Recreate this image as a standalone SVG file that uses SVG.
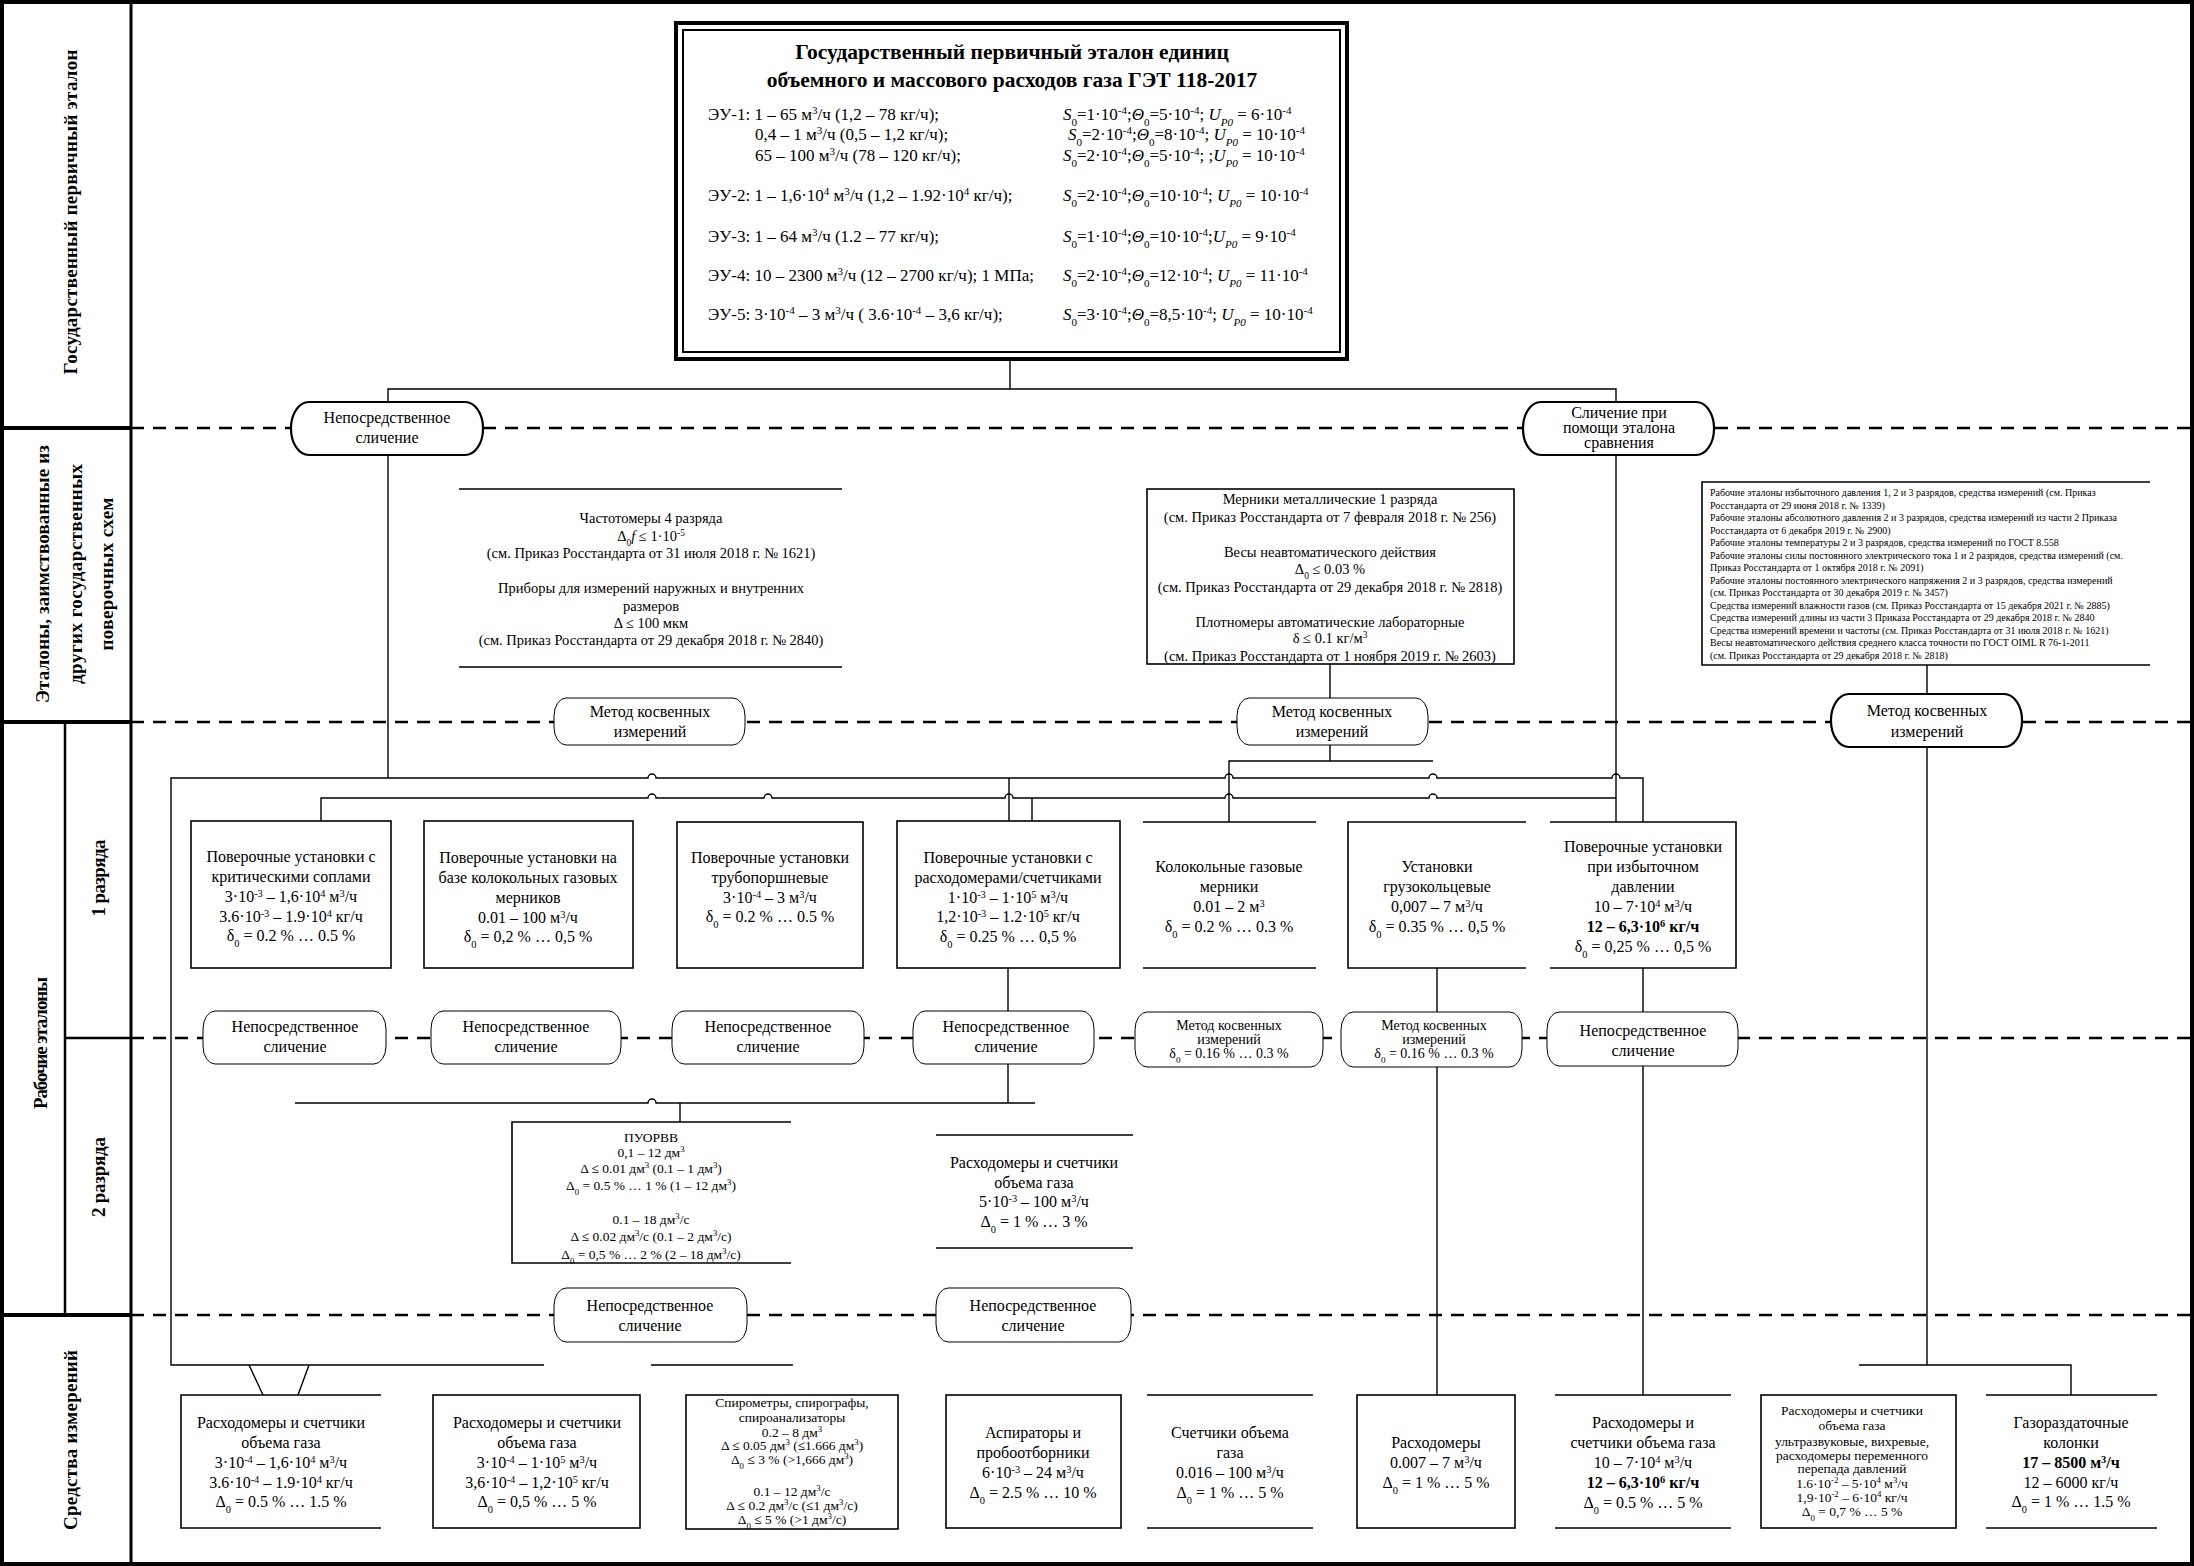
<svg xmlns="http://www.w3.org/2000/svg" width="2194" height="1566" viewBox="0 0 2194 1566">
<style>
text{font-family:"Liberation Serif","Times New Roman",serif;fill:#000}
.c{text-anchor:middle}
.f10{font-size:10px}.f13{font-size:13.5px}.f14{font-size:14.5px}.f15{font-size:14px}.f16{font-size:16px}.f18{font-size:17px}
.sup{font-size:65%;baseline-shift:super}
.sub{font-size:65%;baseline-shift:sub}
.i{font-style:italic}.b{font-weight:bold}
.lbl{font-size:19px;font-weight:bold;text-anchor:middle;dominant-baseline:central}
.box{fill:#fff;stroke:#000;stroke-width:1.6}
.ln{fill:none;stroke:#000;stroke-width:1.6}
.ov{fill:#fff;stroke:#000;stroke-width:2.2}
.ovt{fill:#fff;stroke:#000;stroke-width:1}
.cn{fill:none;stroke:#000;stroke-width:1.4}
.sep{fill:none;stroke:#000;stroke-width:2.5;stroke-dasharray:13 9}
</style>
<rect x="0" y="0" width="2194" height="1566" fill="#fff"/>
<g id="grid" fill="none" stroke="#000">
<rect x="2" y="2" width="2190" height="1562" stroke-width="4"/>
<path d="M131,0V1566" stroke-width="3"/>
<path d="M65,722V1315" stroke-width="2.5"/>
<path d="M0,428H131M0,722H131M0,1315H131" stroke-width="4"/>
<path d="M65,1038H131" stroke-width="2.5"/>
<path class="sep" d="M131,428H2190M131,722H2190M131,1038H2190M131,1315H2190"/>
</g>
<g id="labels">
<text class="lbl" transform="rotate(-90 70 212)" x="70" y="212" textLength="325" lengthAdjust="spacing">Государственный первичный эталон</text>
<text class="lbl" transform="rotate(-90 42 574)" x="42" y="574" textLength="258" lengthAdjust="spacing">Эталоны, заимствованные из</text>
<text class="lbl" transform="rotate(-90 75 574)" x="75" y="574" textLength="220" lengthAdjust="spacing">других государственных</text>
<text class="lbl" transform="rotate(-90 106 574)" x="106" y="574" textLength="153" lengthAdjust="spacing">поверочных схем</text>
<text class="lbl" transform="rotate(-90 40 1043)" x="40" y="1043" textLength="132" lengthAdjust="spacing">Рабочие эталоны</text>
<text class="lbl" transform="rotate(-90 98 878)" x="98" y="878" textLength="77" lengthAdjust="spacing">1 разряда</text>
<text class="lbl" transform="rotate(-90 98 1177)" x="98" y="1177" textLength="80" lengthAdjust="spacing">2 разряда</text>
<text class="lbl" transform="rotate(-90 70 1440)" x="70" y="1440" textLength="180" lengthAdjust="spacing">Средства измерений</text>
</g>
<g id="connectors" class="cn">
<path d="M1010,360V389M388,402V389H1616V402"/>
<path d="M388,455V778"/>
<path d="M544,1365H171V778H648a4,4 0 0 1 8,0H1225a4,4 0 0 1 8,0H1429a4,4 0 0 1 8,0H1612a4,4 0 0 1 8,0H1643V822"/>
<path d="M321,821V798H648a4,4 0 0 1 8,0H764a4,4 0 0 1 8,0H1005a4,4 0 0 1 8,0H1225a4,4 0 0 1 8,0H1429a4,4 0 0 1 8,0H1616"/>
<path d="M1009,778V821M1032,798V821"/>
<path d="M1616,455V822"/>
<path d="M1330,664V698M1330,745V761M1229,822V761H1433"/>
<path d="M1927,665V694M1927,747V1365M1859,1365H2071V1395"/>
<path d="M1008,968V1011M1008,1064V1103M295,1103H648a4,4 0 0 1 8,0H1035M680,1103V1122"/>
<path d="M1437,968V1012M1437,1067V1395"/>
<path d="M1643,968V1012M1643,1066V1395"/>
<path d="M249,1365L263,1395M309,1365L298,1395M651,1365H793"/>
</g>
<g id="n-main">
<rect x="676" y="23" width="671" height="336" fill="#fff" stroke="#000" stroke-width="4"/>
<rect x="683" y="30" width="657" height="322" fill="none" stroke="#000" stroke-width="2"/>
<text class="c b" x="1012" y="59" font-size="21.5">Государственный первичный эталон единиц</text>
<text class="c b" x="1012" y="87" font-size="21.5">объемного и массового расходов газа ГЭТ 118-2017</text>
<g class="f18">
<text x="708" y="120">ЭУ-1: 1 – 65 м<tspan class="sup">3</tspan>/ч (1,2 – 78 кг/ч);</text>
<text x="755" y="140">0,4 – 1 м<tspan class="sup">3</tspan>/ч (0,5 – 1,2 кг/ч);</text>
<text x="755" y="161">65 – 100 м<tspan class="sup">3</tspan>/ч (78 – 120 кг/ч);</text>
<text x="708" y="201">ЭУ-2: 1 – 1,6·10<tspan class="sup">4</tspan> м<tspan class="sup">3</tspan>/ч (1,2 – 1.92·10<tspan class="sup">4</tspan> кг/ч);</text>
<text x="708" y="242">ЭУ-3: 1 – 64 м<tspan class="sup">3</tspan>/ч (1.2 – 77 кг/ч);</text>
<text x="708" y="281">ЭУ-4: 10 – 2300 м<tspan class="sup">3</tspan>/ч (12 – 2700 кг/ч); 1 МПа;</text>
<text x="708" y="320">ЭУ-5: 3·10<tspan class="sup">-4</tspan> – 3 м<tspan class="sup">3</tspan>/ч ( 3.6·10<tspan class="sup">-4</tspan> – 3,6 кг/ч);</text>
<text x="1063" y="120"><tspan class="i">S</tspan><tspan class="sub">0</tspan>=1·10<tspan class="sup">-4</tspan>;<tspan class="i">Θ</tspan><tspan class="sub">0</tspan>=5·10<tspan class="sup">-4</tspan>; <tspan class="i">U</tspan><tspan class="sub i">P0</tspan> = 6·10<tspan class="sup">-4</tspan></text>
<text x="1068" y="140"><tspan class="i">S</tspan><tspan class="sub">0</tspan>=2·10<tspan class="sup">-4</tspan>;<tspan class="i">Θ</tspan><tspan class="sub">0</tspan>=8·10<tspan class="sup">-4</tspan>; <tspan class="i">U</tspan><tspan class="sub i">P0</tspan> = 10·10<tspan class="sup">-4</tspan></text>
<text x="1063" y="161"><tspan class="i">S</tspan><tspan class="sub">0</tspan>=2·10<tspan class="sup">-4</tspan>;<tspan class="i">Θ</tspan><tspan class="sub">0</tspan>=5·10<tspan class="sup">-4</tspan>; ;<tspan class="i">U</tspan><tspan class="sub i">P0</tspan> = 10·10<tspan class="sup">-4</tspan></text>
<text x="1063" y="201"><tspan class="i">S</tspan><tspan class="sub">0</tspan>=2·10<tspan class="sup">-4</tspan>;<tspan class="i">Θ</tspan><tspan class="sub">0</tspan>=10·10<tspan class="sup">-4</tspan>; <tspan class="i">U</tspan><tspan class="sub i">P0</tspan> = 10·10<tspan class="sup">-4</tspan></text>
<text x="1063" y="242"><tspan class="i">S</tspan><tspan class="sub">0</tspan>=1·10<tspan class="sup">-4</tspan>;<tspan class="i">Θ</tspan><tspan class="sub">0</tspan>=10·10<tspan class="sup">-4</tspan>;<tspan class="i">U</tspan><tspan class="sub i">P0</tspan> = 9·10<tspan class="sup">-4</tspan></text>
<text x="1063" y="281"><tspan class="i">S</tspan><tspan class="sub">0</tspan>=2·10<tspan class="sup">-4</tspan>;<tspan class="i">Θ</tspan><tspan class="sub">0</tspan>=12·10<tspan class="sup">-4</tspan>; <tspan class="i">U</tspan><tspan class="sub i">P0</tspan> = 11·10<tspan class="sup">-4</tspan></text>
<text x="1063" y="320"><tspan class="i">S</tspan><tspan class="sub">0</tspan>=3·10<tspan class="sup">-4</tspan>;<tspan class="i">Θ</tspan><tspan class="sub">0</tspan>=8,5·10<tspan class="sup">-4</tspan>; <tspan class="i">U</tspan><tspan class="sub i">P0</tspan> = 10·10<tspan class="sup">-4</tspan></text>
</g>
</g>
<g id="n-top-direct" class="c f16">
<rect class="ov" x="291" y="402" width="192" height="53" rx="18" ry="26"/>
<text x="387" y="423">Непосредственное</text>
<text x="387" y="443">сличение</text>
</g>
<g id="n-top-compare" class="c f16">
<rect class="ov" x="1523" y="402" width="191" height="53" rx="18" ry="26"/>
<text x="1619" y="418">Сличение при</text>
<text x="1619" y="433">помощи эталона</text>
<text x="1619" y="448">сравнения</text>
</g>
<g id="n-freq" class="c f14">
<path class="ln" d="M459,489H842M459,667H842"/>
<text x="651" y="523">Частотомеры 4 разряда</text>
<text x="651" y="541">Δ<tspan class="sub">0</tspan><tspan class="i">f</tspan> ≤ 1·10<tspan class="sup">-5</tspan></text>
<text x="651" y="558">(см. Приказ Росстандарта от 31 июля 2018 г. № 1621)</text>
<text x="651" y="593">Приборы для измерений наружных и внутренних</text>
<text x="651" y="611">размеров</text>
<text x="651" y="628">Δ ≤ 100 мкм</text>
<text x="651" y="645">(см. Приказ Росстандарта от 29 декабря 2018 г. № 2840)</text>
</g>
<g id="n-mern" class="c f14">
<rect class="box" x="1147" y="489" width="367" height="175"/>
<text x="1330" y="504">Мерники металлические 1 разряда</text>
<text x="1330" y="522">(см. Приказ Росстандарта от 7 февраля 2018 г. № 256)</text>
<text x="1330" y="557">Весы неавтоматического действия</text>
<text x="1330" y="574">Δ<tspan class="sub">0</tspan> ≤ 0.03 %</text>
<text x="1330" y="592">(см. Приказ Росстандарта от 29 декабря 2018 г. № 2818)</text>
<text x="1330" y="627">Плотномеры автоматические лабораторные</text>
<text x="1330" y="643">δ ≤ 0.1 кг/м<tspan class="sup">3</tspan></text>
<text x="1330" y="661">(см. Приказ Росстандарта от 1 ноября 2019 г. № 2603)</text>
</g>
<g id="n-list" class="f10">
<path class="ln" d="M2150,482H1702V665H2150"/>
<text x="1710" y="496">Рабочие эталоны избыточного давления 1, 2 и 3 разрядов, средства измерений (см. Приказ</text>
<text x="1710" y="508.5">Росстандарта от 29 июня 2018 г. № 1339)</text>
<text x="1710" y="521">Рабочие эталоны абсолютного давления 2 и 3 разрядов, средства измерений из части 2 Приказа</text>
<text x="1710" y="533.5">Росстандарта от 6 декабря 2019 г. № 2900)</text>
<text x="1710" y="546">Рабочие эталоны температуры 2 и 3 разрядов, средства измерений по ГОСТ 8.558</text>
<text x="1710" y="558.5">Рабочие эталоны силы постоянного электрического тока 1 и 2 разрядов, средства измерений (см.</text>
<text x="1710" y="571">Приказ Росстандарта от 1 октября 2018 г. № 2091)</text>
<text x="1710" y="583.5">Рабочие эталоны постоянного электрического напряжения 2 и 3 разрядов, средства измерений</text>
<text x="1710" y="596">(см. Приказ Росстандарта от 30 декабря 2019 г. № 3457)</text>
<text x="1710" y="608.5">Средства измерений влажности газов (см. Приказ Росстандарта от 15 декабря 2021 г. № 2885)</text>
<text x="1710" y="621">Средства измерений длины из части 3 Приказа Росстандарта от 29 декабря 2018 г. № 2840</text>
<text x="1710" y="633.5">Средства измерений времени и частоты (см. Приказ Росстандарта от 31 июля 2018 г. № 1621)</text>
<text x="1710" y="646">Весы неавтоматического действия среднего класса точности по ГОСТ OIML R 76-1-2011</text>
<text x="1710" y="658.5">(см. Приказ Росстандарта от 29 декабря 2018 г. № 2818)</text>
</g>
<g id="n-m1" class="c f16">
<rect class="ovt" x="554" y="698" width="191" height="47" rx="12" ry="18"/>
<text x="650" y="717">Метод косвенных</text>
<text x="650" y="737">измерений</text>
</g>
<g id="n-m2" class="c f16">
<rect class="ovt" x="1237" y="698" width="191" height="47" rx="12" ry="18"/>
<text x="1332" y="717">Метод косвенных</text>
<text x="1332" y="737">измерений</text>
</g>
<g id="n-m3" class="c f16">
<rect class="ov" x="1831" y="694" width="191" height="53" rx="18" ry="26"/>
<text x="1927" y="716">Метод косвенных</text>
<text x="1927" y="737">измерений</text>
</g>
<g id="n-r1-1" class="c f16">
<rect class="box" x="191" y="821" width="200" height="147"/>
<text x="291" y="862">Поверочные установки с</text>
<text x="291" y="882">критическими соплами</text>
<text x="291" y="902">3·10<tspan class="sup">-3</tspan> – 1,6·10<tspan class="sup">4</tspan> м<tspan class="sup">3</tspan>/ч</text>
<text x="291" y="922">3.6·10<tspan class="sup">-3</tspan> – 1.9·10<tspan class="sup">4</tspan> кг/ч</text>
<text x="291" y="941">δ<tspan class="sub">0</tspan> = 0.2 % … 0.5 %</text>
</g>
<g id="n-r1-2" class="c f16">
<rect class="box" x="424" y="821" width="209" height="147"/>
<text x="528" y="863">Поверочные установки на</text>
<text x="528" y="883">базе колокольных газовых</text>
<text x="528" y="903">мерников</text>
<text x="528" y="923">0.01 – 100  м<tspan class="sup">3</tspan>/ч</text>
<text x="528" y="942">δ<tspan class="sub">0</tspan> = 0,2 % … 0,5 %</text>
</g>
<g id="n-r1-3" class="c f16">
<rect class="box" x="677" y="822" width="186" height="146"/>
<text x="770" y="863">Поверочные установки</text>
<text x="770" y="883">трубопоршневые</text>
<text x="770" y="903">3·10<tspan class="sup">-4</tspan> – 3 м<tspan class="sup">3</tspan>/ч</text>
<text x="770" y="922">δ<tspan class="sub">0</tspan> = 0.2 % … 0.5 %</text>
</g>
<g id="n-r1-4" class="c f16">
<rect class="box" x="897" y="821" width="223" height="147"/>
<text x="1008" y="863">Поверочные установки с</text>
<text x="1008" y="883">расходомерами/счетчиками</text>
<text x="1008" y="903">1·10<tspan class="sup">-3</tspan> – 1·10<tspan class="sup">5</tspan> м<tspan class="sup">3</tspan>/ч</text>
<text x="1008" y="922">1,2·10<tspan class="sup">-3</tspan> – 1.2·10<tspan class="sup">5</tspan> кг/ч</text>
<text x="1008" y="942">δ<tspan class="sub">0</tspan> = 0.25 % … 0,5 %</text>
</g>
<g id="n-r1-5" class="c f16">
<path class="ln" d="M1143,822H1316M1143,968H1316"/>
<text x="1229" y="872">Колокольные газовые</text>
<text x="1229" y="892">мерники</text>
<text x="1229" y="912">0.01 – 2 м<tspan class="sup">3</tspan></text>
<text x="1229" y="932">δ<tspan class="sub">0</tspan> = 0.2 % … 0.3 %</text>
</g>
<g id="n-r1-6" class="c f16">
<path class="ln" d="M1526,822H1348V968H1526"/>
<text x="1437" y="872">Установки</text>
<text x="1437" y="892">грузокольцевые</text>
<text x="1437" y="912">0,007 – 7 м<tspan class="sup">3</tspan>/ч</text>
<text x="1437" y="932">δ<tspan class="sub">0</tspan> = 0.35 % … 0,5 %</text>
</g>
<g id="n-r1-7" class="c f16">
<path class="ln" d="M1550,822H1736V968H1550"/>
<text x="1643" y="852">Поверочные установки</text>
<text x="1643" y="872">при избыточном</text>
<text x="1643" y="892">давлении</text>
<text x="1643" y="912">10 – 7·10<tspan class="sup">4</tspan> м<tspan class="sup">3</tspan>/ч</text>
<text x="1643" y="932" class="b">12 – 6,3·10<tspan class="sup">6</tspan> кг/ч</text>
<text x="1643" y="952">δ<tspan class="sub">0</tspan> = 0,25 % … 0,5 %</text>
</g>
<g id="n-o1" class="c f16">
<rect class="ovt" x="203" y="1011" width="183" height="53" rx="12" ry="18"/>
<text x="295" y="1032">Непосредственное</text>
<text x="295" y="1052">сличение</text>
</g>
<g id="n-o2" class="c f16">
<rect class="ovt" x="431" y="1011" width="190" height="53" rx="12" ry="18"/>
<text x="526" y="1032">Непосредственное</text>
<text x="526" y="1052">сличение</text>
</g>
<g id="n-o3" class="c f16">
<rect class="ovt" x="672" y="1011" width="192" height="53" rx="12" ry="18"/>
<text x="768" y="1032">Непосредственное</text>
<text x="768" y="1052">сличение</text>
</g>
<g id="n-o4" class="c f16">
<rect class="ovt" x="913" y="1011" width="181" height="53" rx="12" ry="18"/>
<text x="1006" y="1032">Непосредственное</text>
<text x="1006" y="1052">сличение</text>
</g>
<g id="n-o5" class="c f15">
<rect class="ovt" x="1135" y="1012" width="188" height="55" rx="12" ry="18"/>
<text x="1229" y="1030">Метод косвенных</text>
<text x="1229" y="1044">измерений</text>
<text x="1229" y="1058">δ<tspan class="sub">0</tspan> = 0.16 % … 0.3 %</text>
</g>
<g id="n-o6" class="c f15">
<rect class="ovt" x="1341" y="1012" width="181" height="55" rx="12" ry="18"/>
<text x="1434" y="1030">Метод косвенных</text>
<text x="1434" y="1044">измерений</text>
<text x="1434" y="1058">δ<tspan class="sub">0</tspan> = 0.16 % … 0.3 %</text>
</g>
<g id="n-o7" class="c f16">
<rect class="ovt" x="1547" y="1012" width="191" height="54" rx="12" ry="18"/>
<text x="1643" y="1036">Непосредственное</text>
<text x="1643" y="1056">сличение</text>
</g>
<g id="n-puorvv" class="c f13">
<path class="ln" d="M791,1122H512V1263H791"/>
<text x="651" y="1142">ПУОРВВ</text>
<text x="651" y="1157">0,1 – 12 дм<tspan class="sup">3</tspan></text>
<text x="651" y="1173">Δ ≤ 0.01 дм<tspan class="sup">3</tspan> (0.1 – 1 дм<tspan class="sup">3</tspan>)</text>
<text x="651" y="1190">Δ<tspan class="sub">0</tspan> = 0.5 % … 1 % (1 – 12 дм<tspan class="sup">3</tspan>)</text>
<text x="651" y="1224">0.1 – 18 дм<tspan class="sup">3</tspan>/с</text>
<text x="651" y="1241">Δ ≤ 0.02 дм<tspan class="sup">3</tspan>/с (0.1 – 2 дм<tspan class="sup">3</tspan>/с)</text>
<text x="651" y="1259">Δ<tspan class="sub">0</tspan> = 0,5 % … 2 % (2 – 18 дм<tspan class="sup">3</tspan>/с)</text>
</g>
<g id="n-r2-flow" class="c f16">
<path class="ln" d="M936,1135H1133M936,1248H1133"/>
<text x="1034" y="1168">Расходомеры и счетчики</text>
<text x="1034" y="1188">объема газа</text>
<text x="1034" y="1207">5·10<tspan class="sup">-3</tspan> – 100 м<tspan class="sup">3</tspan>/ч</text>
<text x="1034" y="1227">Δ<tspan class="sub">0</tspan> = 1 % … 3 %</text>
</g>
<g id="n-ob1" class="c f16">
<rect class="ovt" x="554" y="1288" width="193" height="54" rx="12" ry="18"/>
<text x="650" y="1311">Непосредственное</text>
<text x="650" y="1331">сличение</text>
</g>
<g id="n-ob2" class="c f16">
<rect class="ovt" x="936" y="1288" width="195" height="54" rx="12" ry="18"/>
<text x="1033" y="1311">Непосредственное</text>
<text x="1033" y="1331">сличение</text>
</g>
<g id="n-bb1" class="c f16">
<path class="ln" d="M381,1395H181V1528H381"/>
<text x="281" y="1428">Расходомеры и счетчики</text>
<text x="281" y="1448">объема газа</text>
<text x="281" y="1468">3·10<tspan class="sup">-4</tspan> – 1,6·10<tspan class="sup">4</tspan> м<tspan class="sup">3</tspan>/ч</text>
<text x="281" y="1488">3.6·10<tspan class="sup">-4</tspan> – 1.9·10<tspan class="sup">4</tspan> кг/ч</text>
<text x="281" y="1507">Δ<tspan class="sub">0</tspan> = 0.5 % … 1.5 %</text>
</g>
<g id="n-bb2" class="c f16">
<rect class="box" x="433" y="1395" width="207" height="133"/>
<text x="537" y="1428">Расходомеры и счетчики</text>
<text x="537" y="1448">объема газа</text>
<text x="537" y="1468">3·10<tspan class="sup">-4</tspan> – 1·10<tspan class="sup">5</tspan> м<tspan class="sup">3</tspan>/ч</text>
<text x="537" y="1488">3,6·10<tspan class="sup">-4</tspan> – 1,2·10<tspan class="sup">5</tspan> кг/ч</text>
<text x="537" y="1507">Δ<tspan class="sub">0</tspan> = 0,5 % … 5 %</text>
</g>
<g id="n-bb3" class="c f13">
<rect class="box" x="686" y="1395" width="212" height="134"/>
<text x="792" y="1407">Спирометры, спирографы,</text>
<text x="792" y="1422">спироанализаторы</text>
<text x="792" y="1437">0.2 – 8 дм<tspan class="sup">3</tspan></text>
<text x="792" y="1450">Δ ≤ 0.05 дм<tspan class="sup">3</tspan> (≤1.666 дм<tspan class="sup">3</tspan>)</text>
<text x="792" y="1464">Δ<tspan class="sub">0</tspan> ≤ 3 % (&gt;1,666 дм<tspan class="sup">3</tspan>)</text>
<text x="792" y="1496">0.1 – 12 дм<tspan class="sup">3</tspan>/с</text>
<text x="792" y="1510">Δ ≤ 0.2 дм<tspan class="sup">3</tspan>/с (≤1 дм<tspan class="sup">3</tspan>/с)</text>
<text x="792" y="1524">Δ<tspan class="sub">0</tspan> ≤ 5 % (&gt;1 дм<tspan class="sup">3</tspan>/с)</text>
</g>
<g id="n-bb4" class="c f16">
<rect class="box" x="946" y="1395" width="175" height="133"/>
<text x="1033" y="1438">Аспираторы и</text>
<text x="1033" y="1458">пробоотборники</text>
<text x="1033" y="1478">6·10<tspan class="sup">-3</tspan> – 24 м<tspan class="sup">3</tspan>/ч</text>
<text x="1033" y="1498">Δ<tspan class="sub">0</tspan> = 2.5 % … 10 %</text>
</g>
<g id="n-bb5" class="c f16">
<path class="ln" d="M1147,1395H1313M1147,1528H1313"/>
<text x="1230" y="1438">Счетчики объема</text>
<text x="1230" y="1458">газа</text>
<text x="1230" y="1478">0.016 – 100 м<tspan class="sup">3</tspan>/ч</text>
<text x="1230" y="1498">Δ<tspan class="sub">0</tspan> = 1 % … 5 %</text>
</g>
<g id="n-bb6" class="c f16">
<rect class="box" x="1357" y="1395" width="158" height="133"/>
<text x="1436" y="1448">Расходомеры</text>
<text x="1436" y="1468">0.007 – 7 м<tspan class="sup">3</tspan>/ч</text>
<text x="1436" y="1488">Δ<tspan class="sub">0</tspan> = 1 % … 5 %</text>
</g>
<g id="n-bb7" class="c f16">
<path class="ln" d="M1555,1395H1731M1555,1528H1731"/>
<text x="1643" y="1428">Расходомеры и</text>
<text x="1643" y="1448">счетчики объема газа</text>
<text x="1643" y="1468">10 – 7·10<tspan class="sup">4</tspan> м<tspan class="sup">3</tspan>/ч</text>
<text x="1643" y="1488" class="b">12 – 6,3·10<tspan class="sup">6</tspan> кг/ч</text>
<text x="1643" y="1508">Δ<tspan class="sub">0</tspan> = 0.5 % … 5 %</text>
</g>
<g id="n-bb8" class="c f13">
<rect class="box" x="1761" y="1395" width="195" height="133"/>
<text x="1852" y="1415">Расходомеры и счетчики</text>
<text x="1852" y="1430">объема газа</text>
<text x="1852" y="1446">ультразвуковые, вихревые,</text>
<text x="1852" y="1460">расходомеры переменного</text>
<text x="1852" y="1473">перепада давлений</text>
<text x="1852" y="1488">1.6·10<tspan class="sup">-2</tspan> – 5·10<tspan class="sup">4</tspan> м<tspan class="sup">3</tspan>/ч</text>
<text x="1852" y="1502">1,9·10<tspan class="sup">-2</tspan> – 6·10<tspan class="sup">4</tspan> кг/ч</text>
<text x="1852" y="1516">Δ<tspan class="sub">0</tspan> = 0,7 % … 5 %</text>
</g>
<g id="n-bb9" class="c f16">
<path class="ln" d="M1986,1395H2157M1986,1528H2157"/>
<text x="2071" y="1428">Газораздаточные</text>
<text x="2071" y="1448">колонки</text>
<text x="2071" y="1468" class="b">17 – 8500 м<tspan class="sup">3</tspan>/ч</text>
<text x="2071" y="1488">12 – 6000 кг/ч</text>
<text x="2071" y="1507">Δ<tspan class="sub">0</tspan> = 1 % … 1.5 %</text>
</g>
</svg>
